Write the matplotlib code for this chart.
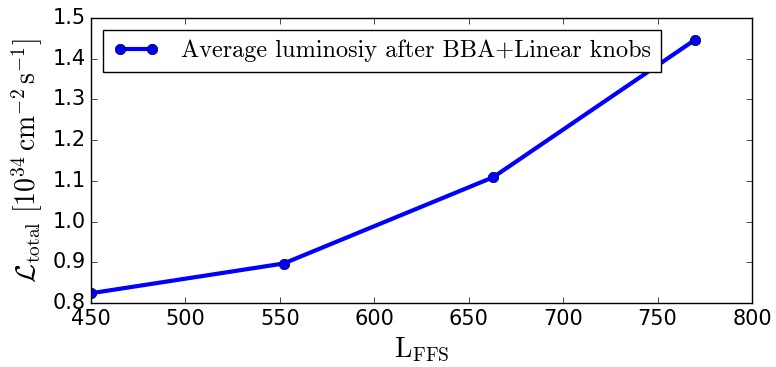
import matplotlib
matplotlib.use("Agg")
import matplotlib.pyplot as plt

plt.style.use('classic')
plt.rcParams['mathtext.fontset'] = 'cm'

L_ffs = [450, 552, 663, 770]
lumi = [0.824, 0.897, 1.109, 1.447]
legend_label = 'Average luminosiy after BBA+Linear knobs'

fig = plt.figure(figsize=(7.76, 3.67), dpi=100, facecolor='white')
ax = fig.add_axes([91/776, 1-303/367, 661/776, 285/367])
ax.plot(L_ffs, lumi, 'b-o', lw=3, markersize=7.5, label=legend_label)
ax.set_xlim(450, 800)
ax.set_ylim(0.8, 1.5)
ax.tick_params(labelsize=15)
ax.set_xlabel(r'$\mathrm{L_{FFS}}$', fontsize=20)
ax.set_ylabel(r'$\mathcal{L}_{\mathrm{total}}\ [10^{34}\,\mathrm{cm}^{-2}\,\mathrm{s}^{-1}]$', fontsize=20)
leg = ax.legend(loc='upper left', prop={'family': 'cmr10', 'size': 17.5}, numpoints=2,
                handlelength=1.9, handletextpad=0.9)
fig.savefig('out.png', dpi=100, facecolor='white')
